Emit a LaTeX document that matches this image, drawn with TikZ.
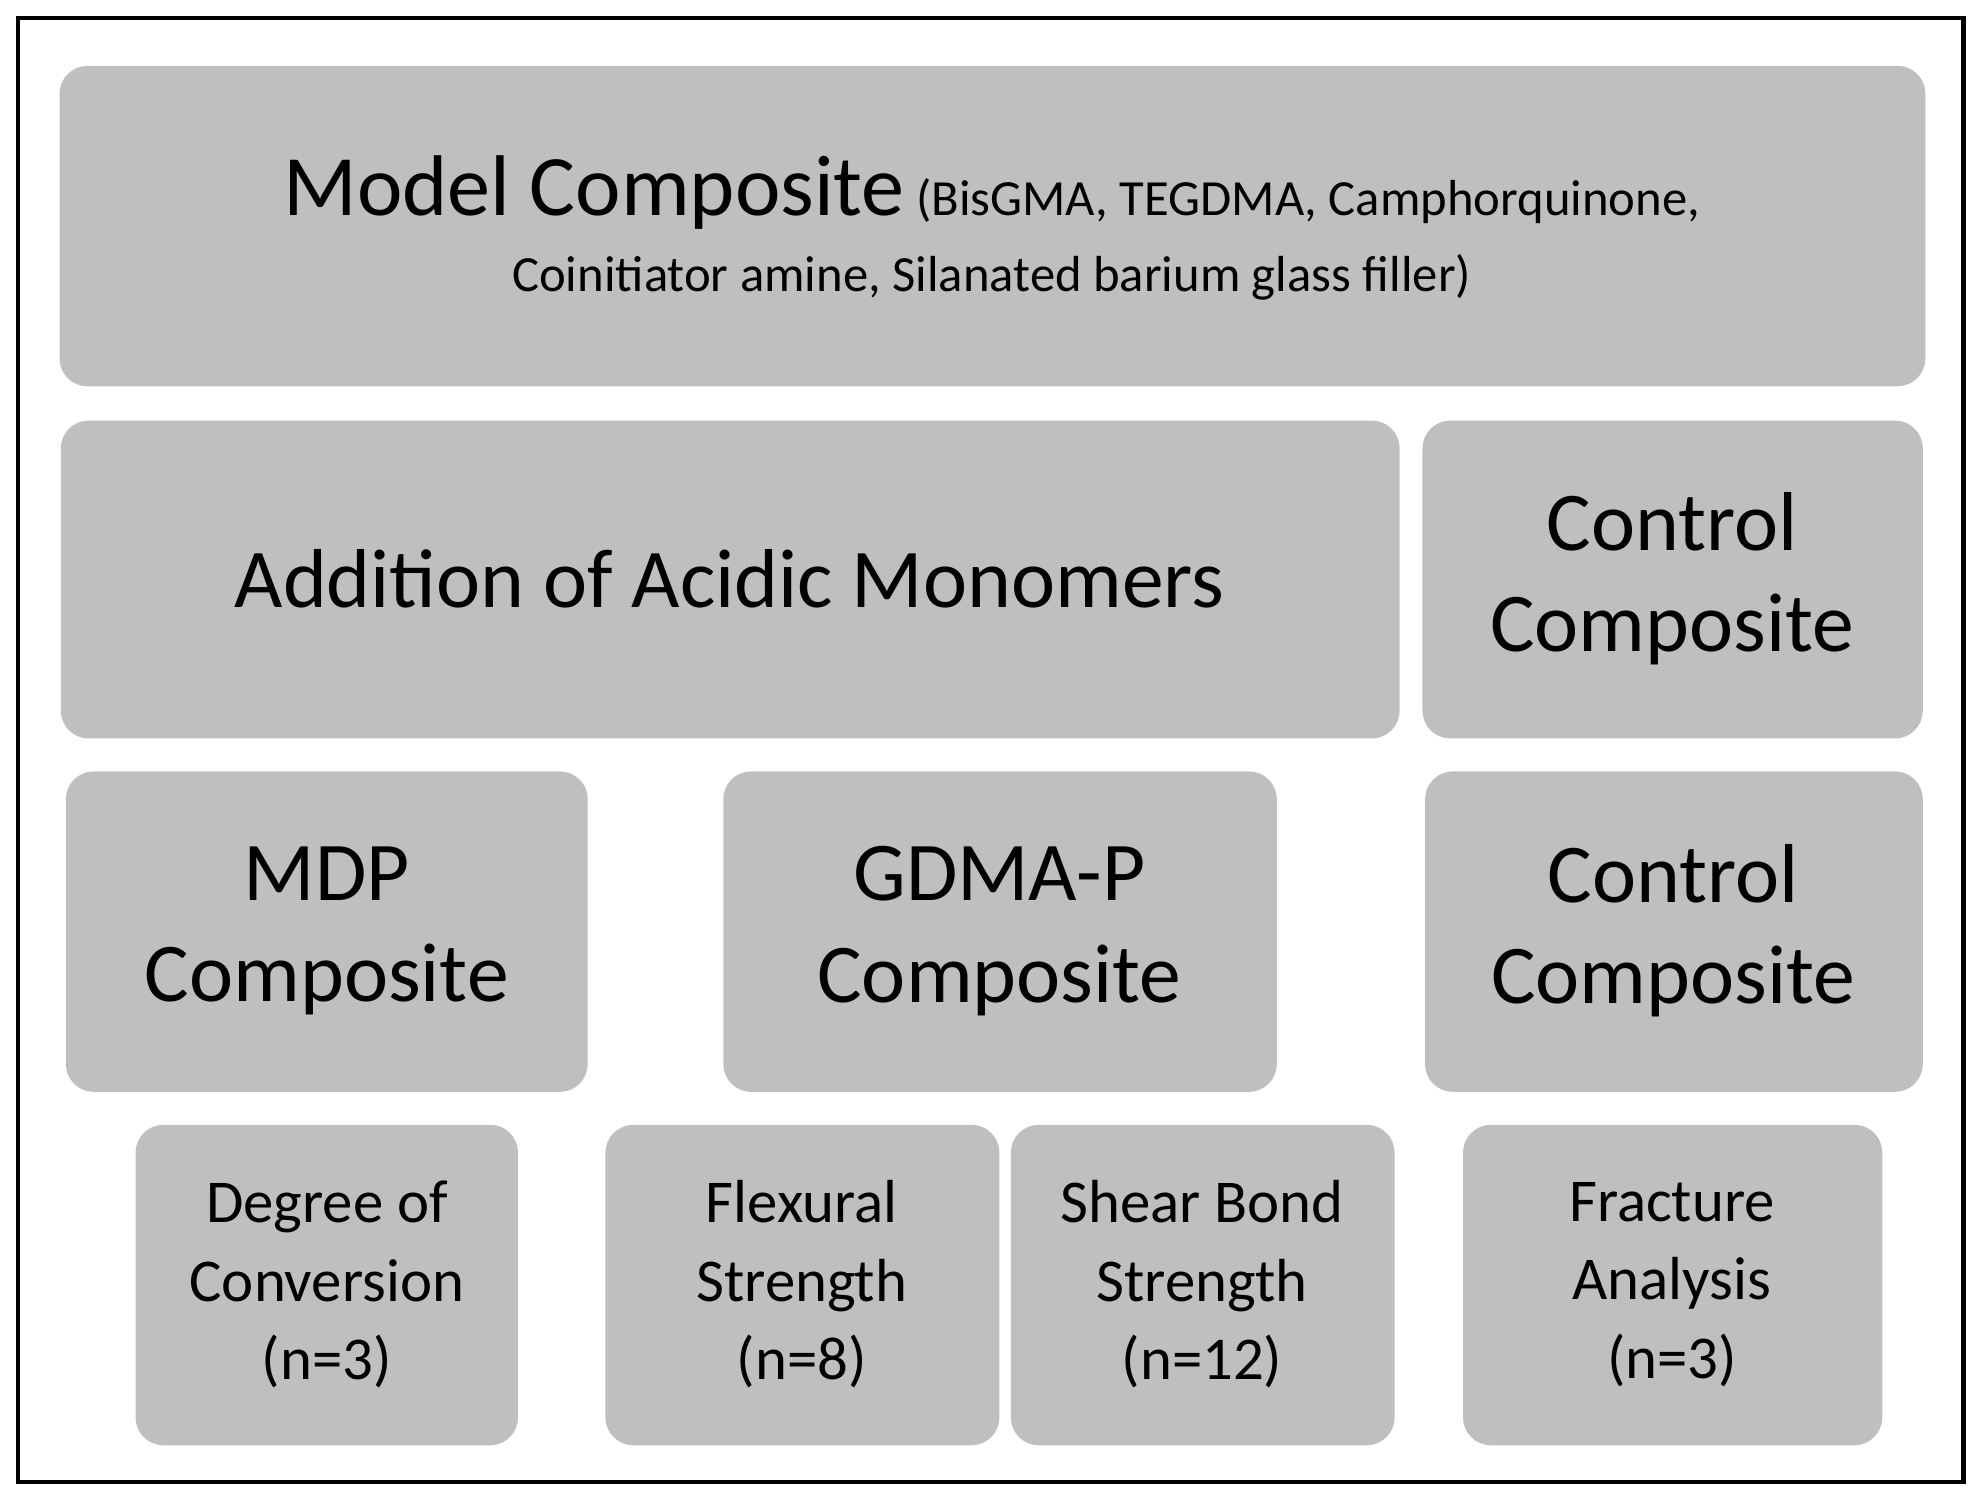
\documentclass[tikz,border=0pt]{standalone}
\usepackage{fontspec}
\setmainfont{Carlito}
\begin{document}
\begin{tikzpicture}[x=1pt,y=-1pt,
  bx/.style={fill=black!25,draw=none,rounded corners=22pt,inner sep=0pt,align=center},
  big/.style={font=\fontsize{66}{80}\selectfont},
  sm/.style={font=\fontsize{48}{62}\selectfont}]
\useasboundingbox (0,0) rectangle (1560,1182);
\draw[line width=3.5pt] (14,14) rectangle (1550,1170);
\newcommand\bxx[6]{\fill[black!25,rounded corners=22pt] (#2,#3) rectangle (#4,#5); \node[align=center,#6] (#1) at ({(#2+#4)/2},{(#3+#5)/2}) {\strut};}
\fill[black!25,rounded corners=22pt] (47,52) rectangle (1520,305);
\node[align=center,font=\fontsize{40}{60}\selectfont] (top) at (783,180) {{\fontsize{68}{60}\selectfont Model Composite} (BisGMA, TEGDMA, Camphorquinone,\\Coinitiator amine, Silanated barium glass filler)};
\fill[black!25,rounded corners=22pt] (48,332) rectangle (1105,583);
\node[big] (add) at (576,457) {Addition of Acidic Monomers};
\fill[black!25,rounded corners=22pt] (1123,332) rectangle (1518,583);
\node[big,align=center] (c1) at (1320,457) {Control\\Composite};
\fill[black!25,rounded corners=22pt] (52,609) rectangle (464,862);
\node[big,align=center] (mdp) at (258,735) {MDP\\Composite};
\fill[black!25,rounded corners=22pt] (571,609) rectangle (1008,862);
\node[big,align=center] (gd) at (789,735) {GDMA-P\\Composite};
\fill[black!25,rounded corners=22pt] (1125,609) rectangle (1518,862);
\node[big,align=center] (c2) at (1321,735) {Control\\Composite};
\fill[black!25,rounded corners=22pt] (107,888) rectangle (409,1141);
\node[sm,align=center] (dc) at (258,1014) {Degree of\\Conversion\\(n=3)};
\fill[black!25,rounded corners=22pt] (478,888) rectangle (789,1141);
\node[sm,align=center] (fs) at (633,1014) {Flexural\\Strength\\(n=8)};
\fill[black!25,rounded corners=22pt] (798,888) rectangle (1101,1141);
\node[sm,align=center] (sb) at (949,1014) {Shear Bond\\Strength\\(n=12)};
\fill[black!25,rounded corners=22pt] (1155,888) rectangle (1486,1141);
\node[sm,align=center] (fa) at (1320,1014) {Fracture\\Analysis\\(n=3)};
\end{tikzpicture}
\end{document}
